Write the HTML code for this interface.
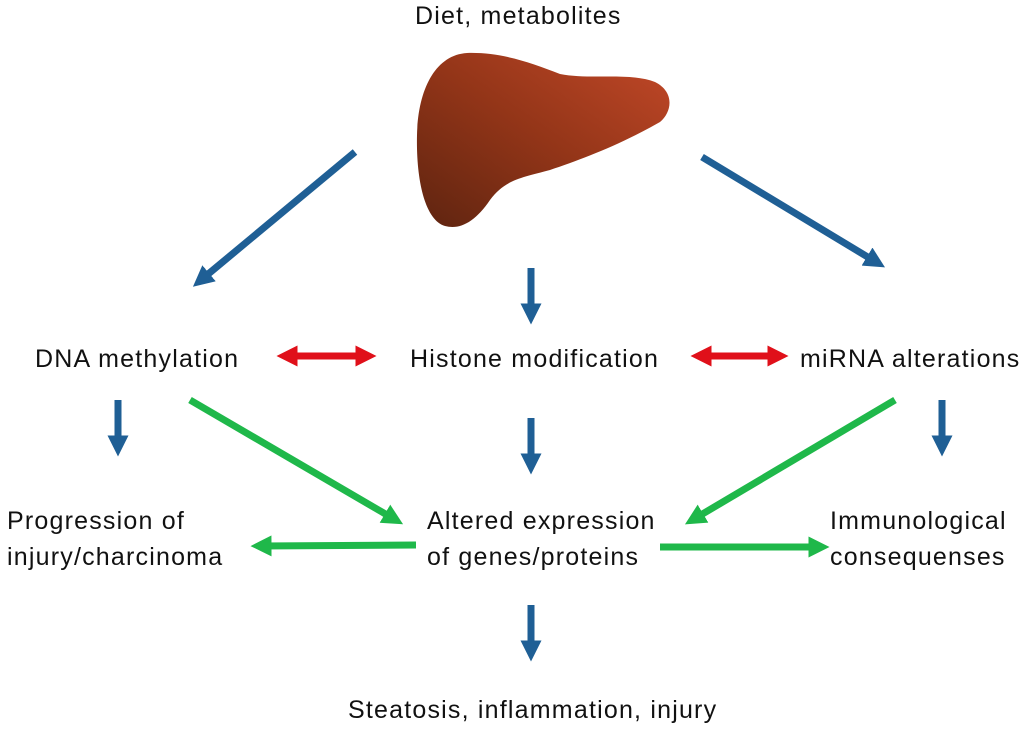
<!DOCTYPE html>
<html><head><style>
body{margin:0;background:#fff;width:1024px;height:732px;overflow:hidden;position:relative;font-family:"Liberation Sans",sans-serif;}
.t{position:absolute;font-size:25px;letter-spacing:1.2px;color:#111;line-height:36px;white-space:nowrap;}
</style></head><body>
<svg width="1024" height="732" style="position:absolute;left:0;top:0">
<defs>
<linearGradient id="lg" x1="0" y1="1" x2="1" y2="0">
<stop offset="0" stop-color="#5e2410"/><stop offset="0.5" stop-color="#933518"/><stop offset="1" stop-color="#c24828"/></linearGradient>
<marker id="b" markerWidth="3" markerHeight="3" refX="1.5" refY="1.5" orient="auto" markerUnits="strokeWidth"><path d="M0,0L3,1.5L0,3z" fill="#1f5f95"/></marker>
<marker id="g" markerWidth="3" markerHeight="3" refX="1.5" refY="1.5" orient="auto" markerUnits="strokeWidth"><path d="M0,0L3,1.5L0,3z" fill="#1fb84a"/></marker>
<marker id="r" markerWidth="3" markerHeight="3" refX="1.5" refY="1.5" orient="auto-start-reverse" markerUnits="strokeWidth"><path d="M0,0L3,1.5L0,3z" fill="#e0101a"/></marker>
</defs>
<path d="M467,53 C500,52 530,62 560,74 C590,80 630,72 655,82 C675,92 672,112 660,122 C620,145 580,160 550,170 C520,178 505,180 490,200 C475,222 460,230 445,226 C425,220 416,180 417,135 C418,90 435,55 467,53 Z" fill="url(#lg)"/>
<g stroke="#1f5f95" stroke-width="7" fill="none" marker-end="url(#b)">
<line x1="355" y1="152" x2="201" y2="280"/>
<line x1="531" y1="268" x2="531" y2="314"/>
<line x1="702" y1="157" x2="876" y2="262"/>
<line x1="118" y1="400" x2="118" y2="446"/>
<line x1="531" y1="418" x2="531" y2="464"/>
<line x1="942" y1="400" x2="942" y2="446"/>
<line x1="531" y1="605" x2="531" y2="651"/>
</g>
<g stroke="#1fb84a" stroke-width="7" fill="none" marker-end="url(#g)">
<line x1="190" y1="400" x2="394" y2="519"/>
<line x1="895" y1="400" x2="694" y2="519"/>
<line x1="416" y1="545" x2="261" y2="546"/>
<line x1="660" y1="547" x2="819" y2="547"/>
</g>
<g stroke="#e0101a" stroke-width="7" fill="none" marker-end="url(#r)" marker-start="url(#r)">
<line x1="287" y1="356" x2="366" y2="356"/>
<line x1="701" y1="356" x2="778" y2="356"/>
</g>
</svg>
<div class="t" style="left:415px;top:-2px">Diet, metabolites</div>
<div class="t" style="left:35px;top:341px">DNA methylation</div>
<div class="t" style="left:410px;top:341px">Histone modification</div>
<div class="t" style="left:800px;top:341px">miRNA alterations</div>
<div class="t" style="left:7px;top:503px">Progression of<br>injury/charcinoma</div>
<div class="t" style="left:427px;top:503px">Altered expression<br>of genes/proteins</div>
<div class="t" style="left:830px;top:503px">Immunological<br>consequenses</div>
<div class="t" style="left:348px;top:692px">Steatosis, inflammation, injury</div>
</body></html>
